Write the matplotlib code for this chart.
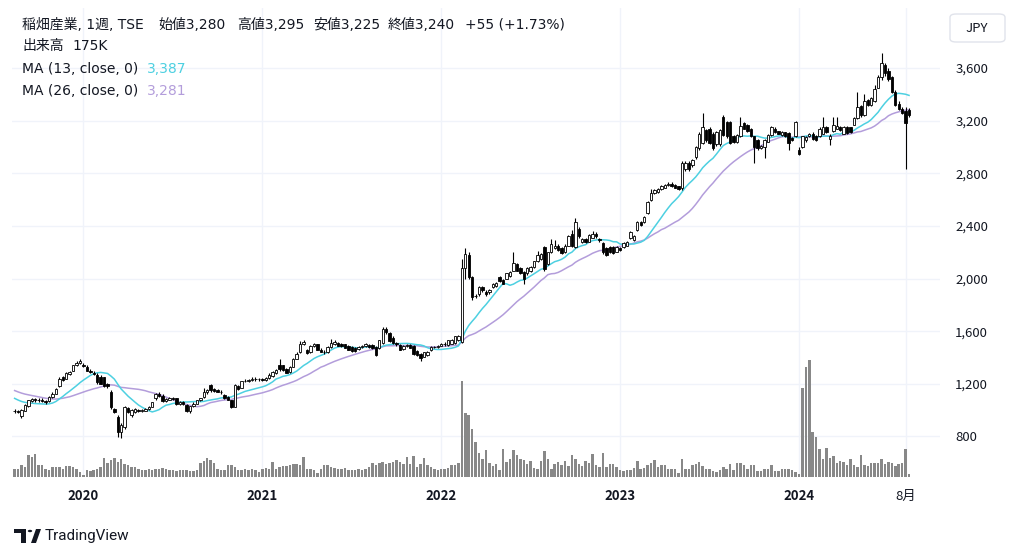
import numpy as np
import pandas as pd
import matplotlib
matplotlib.use('Agg')
import matplotlib.pyplot as plt
from matplotlib.patches import FancyBboxPatch, Rectangle, Circle, Polygon

plt.rcParams['font.family'] = ['Noto Sans CJK JP', 'DejaVu Sans']

# weekly closes before the first visible bar (only used to warm up the MAs)
closes_before = [1250, 1240, 1235, 1225, 1220, 1215, 1210, 1200, 1195, 1190, 1185, 1180, 1160,
                 1150, 1140, 1130, 1125, 1120, 1110, 1100, 1090, 1080, 1070, 1050, 1005]

opens = [
    995, 990, 955, 995, 1030, 1070, 1085, 1075, 1080, 1072,
    1068, 1100, 1125, 1180, 1250, 1240, 1275, 1300, 1340, 1360,
    1345, 1330, 1300, 1285, 1270, 1255, 1250, 1195, 1140, 1005,
    950, 830, 870, 1015, 960, 985, 1000, 995, 995, 1005,
    1025, 1090, 1120, 1110, 1070, 1080, 1090, 1090, 1050, 1060,
    1040, 990, 1030, 1050, 1080, 1100, 1140, 1190, 1160, 1150,
    1140, 1115, 1100, 1075, 1025, 1180, 1170, 1220, 1225, 1230,
    1240, 1235, 1238, 1230, 1245, 1260, 1280, 1345, 1340, 1315,
    1290, 1330, 1390, 1440, 1500, 1455, 1440, 1490, 1500, 1460,
    1445, 1440, 1480, 1500, 1510, 1505, 1500, 1490, 1480, 1470,
    1465, 1480, 1485, 1495, 1495, 1480, 1470, 1510, 1620, 1585,
    1550, 1510, 1495, 1465, 1490, 1495, 1490, 1450, 1430, 1405,
    1420, 1455, 1480, 1478, 1490, 1505, 1495, 1505, 1510, 1530,
    1520, 2080, 2180, 2010, 1870, 1880, 1935, 1900, 1895, 1935,
    1940, 2010, 1990, 2000, 2020, 2060, 2110, 2080, 2050, 2040,
    2055, 2090, 2130, 2150, 2240, 2110, 2200, 2230, 2250, 2230,
    2200, 2250, 2340, 2240, 2380, 2280, 2300, 2280, 2310, 2340,
    2300, 2270, 2230, 2240, 2240, 2205, 2230, 2240, 2250, 2305,
    2290, 2370, 2430, 2430, 2500, 2600, 2650, 2660, 2680, 2690,
    2710, 2720, 2710, 2700, 2690, 2830, 2880, 2860, 2920, 2990,
    3030, 3130, 3140, 3100, 3020, 3020, 3230, 3190, 3190, 3080,
    3040, 3080, 3180, 3170, 3140, 3080, 3050, 2995, 3000, 3040,
    3090, 3140, 3120, 3090, 3110, 3105, 3070, 3080, 2975, 3000,
    3050, 3080, 3100, 3080, 3080, 3100, 3150, 3060, 3120, 3140,
    3150, 3100, 3150, 3150, 3170, 3220, 3310, 3240, 3360, 3320,
    3350, 3450, 3530, 3620, 3580, 3530, 3420, 3330, 3290, 3270,
    3280]

highs = [
    1005, 1000, 1005, 1045, 1080, 1095, 1095, 1090, 1090, 1080,
    1105, 1135, 1165, 1250, 1260, 1290, 1300, 1345, 1370, 1385,
    1355, 1340, 1310, 1300, 1280, 1265, 1255, 1205, 1150, 1015,
    960, 900, 1030, 1025, 1005, 1015, 1010, 1010, 1015, 1030,
    1065, 1130, 1135, 1120, 1090, 1100, 1100, 1095, 1070, 1070,
    1045, 1035, 1060, 1080, 1095, 1165, 1160, 1195, 1170, 1160,
    1150, 1120, 1105, 1080, 1195, 1190, 1225, 1235, 1240, 1250,
    1250, 1245, 1245, 1255, 1280, 1295, 1310, 1385, 1345, 1320,
    1335, 1395, 1440, 1525, 1530, 1465, 1495, 1510, 1505, 1470,
    1455, 1485, 1540, 1530, 1515, 1510, 1505, 1495, 1485, 1480,
    1485, 1495, 1510, 1500, 1500, 1485, 1535, 1635, 1630, 1595,
    1560, 1520, 1500, 1495, 1500, 1500, 1495, 1455, 1435, 1445,
    1450, 1485, 1490, 1495, 1510, 1515, 1535, 1540, 1565, 1570,
    2150, 2235, 2200, 2020, 1885, 1945, 1945, 1910, 1920, 1965,
    1970, 2020, 2000, 2045, 2055, 2200, 2120, 2090, 2055, 2085,
    2095, 2135, 2210, 2195, 2250, 2205, 2300, 2295, 2260, 2240,
    2260, 2330, 2370, 2460, 2390, 2310, 2310, 2335, 2360, 2350,
    2310, 2280, 2240, 2250, 2245, 2245, 2240, 2275, 2285, 2360,
    2330, 2440, 2440, 2475, 2590, 2680, 2680, 2690, 2710, 2720,
    2730, 2730, 2715, 2705, 2890, 2895, 2890, 2910, 3010, 3110,
    3255, 3140, 3150, 3110, 3120, 3140, 3245, 3200, 3200, 3090,
    3100, 3230, 3190, 3175, 3145, 3085, 3060, 3015, 3060, 3095,
    3160, 3150, 3125, 3120, 3115, 3110, 3075, 3200, 3000, 3085,
    3080, 3105, 3110, 3090, 3150, 3230, 3160, 3100, 3230, 3230,
    3160, 3160, 3160, 3155, 3230, 3420, 3320, 3400, 3365, 3380,
    3470, 3550, 3712, 3640, 3600, 3540, 3430, 3350, 3300, 3300,
    3295]

lows = [
    980, 975, 940, 990, 1025, 1060, 1065, 1065, 1060, 1050,
    1060, 1095, 1120, 1175, 1220, 1235, 1265, 1295, 1335, 1350,
    1325, 1295, 1285, 1270, 1200, 1195, 1175, 1165, 1010, 975,
    795, 790, 860, 975, 950, 980, 985, 985, 990, 1000,
    1020, 1080, 1100, 1060, 1060, 1075, 1075, 1040, 1040, 1040,
    985, 980, 1020, 1045, 1070, 1095, 1125, 1140, 1140, 1135,
    1125, 1085, 1075, 1015, 1020, 1150, 1165, 1210, 1215, 1225,
    1225, 1225, 1220, 1225, 1240, 1255, 1275, 1300, 1300, 1280,
    1285, 1325, 1385, 1435, 1495, 1430, 1435, 1480, 1455, 1440,
    1430, 1435, 1475, 1495, 1485, 1480, 1470, 1455, 1445, 1440,
    1455, 1470, 1480, 1475, 1465, 1415, 1465, 1505, 1580, 1515,
    1505, 1490, 1455, 1460, 1480, 1470, 1420, 1415, 1370, 1400,
    1415, 1450, 1470, 1470, 1485, 1490, 1490, 1500, 1505, 1525,
    1510, 2000, 2000, 1840, 1855, 1870, 1900, 1870, 1885, 1925,
    1935, 1975, 1955, 1995, 2010, 2055, 2055, 2035, 1960, 2030,
    2050, 2080, 2125, 2140, 2060, 2100, 2195, 2225, 2210, 2185,
    2195, 2245, 2240, 2235, 2310, 2270, 2270, 2275, 2305, 2310,
    2280, 2190, 2170, 2195, 2190, 2200, 2210, 2235, 2245, 2300,
    2285, 2360, 2400, 2420, 2490, 2590, 2640, 2650, 2670, 2685,
    2700, 2695, 2685, 2670, 2670, 2820, 2820, 2850, 2910, 2980,
    3020, 3040, 3020, 2980, 3010, 3010, 3080, 3070, 3020, 3030,
    3030, 3075, 3135, 3110, 3075, 2880, 2980, 2985, 2915, 3035,
    3085, 3105, 3095, 3085, 3075, 2980, 3045, 3075, 2940, 2995,
    3040, 3075, 3055, 3045, 3075, 3095, 3105, 3015, 3115, 3135,
    3120, 3095, 3100, 3105, 3165, 3215, 3230, 3235, 3310, 3315,
    3345, 3445, 3510, 3540, 3500, 3410, 3310, 3280, 3250, 2830,
    3225]

closes = [
    990, 985, 1000, 1040, 1075, 1085, 1078, 1080, 1070, 1062,
    1100, 1125, 1160, 1240, 1230, 1280, 1290, 1340, 1360, 1372,
    1335, 1300, 1292, 1275, 1210, 1200, 1185, 1185, 1020, 985,
    830, 885, 1020, 985, 1000, 1005, 995, 1000, 1010, 1025,
    1060, 1120, 1110, 1070, 1085, 1090, 1085, 1045, 1060, 1050,
    990, 1030, 1050, 1075, 1090, 1140, 1150, 1150, 1145, 1140,
    1135, 1090, 1080, 1025, 1190, 1160, 1220, 1225, 1230, 1240,
    1235, 1238, 1230, 1245, 1265, 1290, 1305, 1310, 1305, 1285,
    1330, 1390, 1430, 1505, 1515, 1435, 1490, 1505, 1460, 1445,
    1440, 1480, 1510, 1520, 1490, 1485, 1475, 1460, 1450, 1450,
    1480, 1490, 1500, 1480, 1470, 1420, 1530, 1620, 1590, 1525,
    1510, 1500, 1460, 1490, 1495, 1475, 1425, 1420, 1395, 1440,
    1445, 1480, 1478, 1485, 1505, 1500, 1530, 1535, 1560, 1560,
    2080, 2190, 2010, 1860, 1870, 1935, 1910, 1880, 1915, 1960,
    1965, 1980, 1960, 2040, 2050, 2120, 2060, 2040, 1995, 2080,
    2090, 2130, 2180, 2190, 2070, 2200, 2260, 2250, 2220, 2195,
    2250, 2320, 2250, 2430, 2320, 2300, 2280, 2330, 2340, 2320,
    2290, 2200, 2180, 2200, 2195, 2240, 2220, 2270, 2280, 2355,
    2320, 2430, 2410, 2470, 2580, 2650, 2670, 2680, 2700, 2710,
    2720, 2700, 2690, 2680, 2880, 2880, 2830, 2900, 3000, 3100,
    3150, 3050, 3030, 2990, 3110, 3130, 3090, 3080, 3030, 3040,
    3090, 3160, 3140, 3120, 3080, 3000, 2990, 3005, 3050, 3090,
    3150, 3110, 3100, 3115, 3080, 3030, 3050, 3190, 2950, 3080,
    3075, 3100, 3060, 3050, 3140, 3150, 3110, 3080, 3170, 3160,
    3130, 3150, 3105, 3110, 3220, 3300, 3240, 3350, 3320, 3370,
    3440, 3530, 3640, 3560, 3520, 3420, 3320, 3290, 3260, 3185,
    3240]

# weekly volume, thousands of shares
volumes = [
    420, 420, 640, 530, 1170, 1060, 1220, 640, 640, 420,
    370, 530, 530, 530, 420, 580, 580, 530, 420, 270,
    110, 370, 320, 370, 420, 530, 1010, 740, 900, 1010,
    800, 950, 690, 640, 530, 530, 420, 370, 370, 420,
    370, 420, 420, 480, 420, 370, 370, 320, 370, 370,
    370, 320, 320, 370, 740, 850, 1010, 900, 740, 420,
    370, 370, 640, 640, 530, 370, 370, 420, 370, 420,
    370, 270, 420, 480, 420, 800, 420, 530, 580, 580,
    640, 690, 690, 640, 1060, 420, 420, 370, 210, 420,
    640, 640, 530, 480, 420, 420, 480, 370, 370, 370,
    420, 370, 420, 530, 740, 640, 740, 800, 690, 740,
    800, 900, 800, 690, 1060, 690, 1110, 530, 690, 1010,
    640, 530, 420, 370, 420, 420, 480, 640, 640, 740,
    5090, 3390, 3290, 2540, 1860, 1270, 950, 1430, 740, 580,
    690, 370, 1480, 800, 950, 1430, 1170, 950, 900, 690,
    850, 480, 420, 850, 1380, 950, 420, 690, 800, 640,
    850, 580, 1170, 950, 690, 580, 850, 740, 1220, 640,
    530, 1270, 530, 690, 690, 530, 370, 320, 370, 370,
    480, 850, 420, 480, 640, 740, 900, 530, 640, 640,
    420, 420, 420, 210, 950, 420, 420, 640, 690, 800,
    580, 420, 420, 320, 270, 370, 530, 420, 690, 370,
    740, 740, 640, 420, 640, 640, 320, 320, 420, 420,
    640, 320, 320, 420, 420, 420, 370, 270, 160, 4720,
    5830, 6200, 2390, 2120, 1480, 950, 1540, 1010, 1110, 740,
    850, 800, 640, 950, 640, 530, 1170, 640, 580, 740,
    740, 740, 950, 690, 800, 740, 580, 690, 740, 1480,
    175]

price_ticks = [800, 1200, 1600, 2000, 2400, 2800, 3200, 3600]

n = len(closes)
dates = pd.date_range(end='2024-08-12', periods=n, freq='W-MON')
x = np.arange(n)
o = np.array(opens)
h = np.array(highs)
l = np.array(lows)
c = np.array(closes)

hist = pd.Series(closes_before + closes)
ma13 = hist.rolling(13, min_periods=1).mean().values[len(closes_before):]
ma26 = hist.rolling(26, min_periods=1).mean().values[len(closes_before):]

# tick positions: first bar of each year, plus August 2024
tick_pos, tick_lab, tick_bold = [], [], []
for i in range(1, n):
    if dates[i].year != dates[i - 1].year:
        tick_pos.append(i)
        tick_lab.append(str(dates[i].year))
        tick_bold.append(True)
    elif dates[i].year == 2024 and dates[i].month == 8 and dates[i - 1].month == 7:
        tick_pos.append(i)
        tick_lab.append('8月')
        tick_bold.append(False)

W, H = 1024, 557
fig = plt.figure(figsize=(W / 100, H / 100), dpi=100)
rect = [12 / W, 80 / H, 928 / W, 469 / H]
xlim = (-0.76, 269.0)
ylim = (491.6, 4056)

# grid (bottom layer)
axg = fig.add_axes(rect)
axg.set_xlim(xlim)
axg.set_ylim(ylim)
axg.axis('off')
for p in price_ticks:
    axg.axhline(p, color='#f0f3fa', lw=1, zorder=0)
for t in tick_pos:
    axg.axvline(t, color='#f0f3fa', lw=1, zorder=0)

# volume
axv = fig.add_axes(rect)
axv.patch.set_alpha(0)
axv.set_xlim(xlim)
axv.set_ylim(0, max(volumes) / (117 / 469))
axv.axis('off')
axv.bar(x, volumes, width=0.72, color='#888888', zorder=1)

# price
ax = fig.add_axes(rect)
ax.patch.set_alpha(0)
ax.set_xlim(xlim)
ax.set_ylim(ylim)
for s in ax.spines.values():
    s.set_visible(False)

ax.plot(x, ma26, color='#b39ddb', lw=1.1, zorder=2)
ax.plot(x, ma13, color='#4dd0e1', lw=1.1, zorder=2)

up = c >= o
ax.vlines(x, l, h, color='#000000', lw=0.8, zorder=3)
ax.bar(x[up], (c - o)[up], bottom=o[up], width=0.7, color='white',
       edgecolor='black', linewidth=0.6, zorder=4)
ax.bar(x[~up], (o - c)[~up], bottom=c[~up], width=0.7, color='black',
       edgecolor='black', linewidth=0.6, zorder=4)

ax.yaxis.tick_right()
ax.set_yticks(price_ticks)
ax.set_yticklabels([f'{p:,}' for p in price_ticks])
ax.tick_params(axis='y', length=0, pad=11, labelsize=9.5, labelcolor='#131722')
ax.set_xticks(tick_pos)
ax.set_xticklabels(tick_lab)
ax.tick_params(axis='x', length=0, pad=9, labelsize=9.5, labelcolor='#131722')
for lab, b in zip(ax.get_xticklabels(), tick_bold):
    if b:
        lab.set_fontweight('bold')

# legend / header text
fs = 10
hfam = ['DejaVu Sans', 'Noto Sans CJK JP']
tc = '#131722'
header = [(22, '稲畑産業, 1週, TSE'), (158, '始値3,280'), (237, '高値3,295'),
          (313, '安値3,225'), (388, '終値3,240'), (465, '+55 (+1.73%)')]
for px, s in header:
    fig.text(px / W, 1 - 25 / H, s, fontsize=fs, color=tc, va='center', family=hfam)
fig.text(22 / W, 1 - 46 / H, '出来高', fontsize=fs, color=tc, va='center', family=hfam)
fig.text(72 / W, 1 - 46 / H, '175K', fontsize=fs, color=tc, va='center', family=hfam)
fig.text(22 / W, 1 - 69 / H, 'MA (13, close, 0)', fontsize=fs, color=tc, va='center', family=hfam)
fig.text(147 / W, 1 - 69 / H, '3,387', fontsize=fs, color='#4dd0e1', va='center', family=hfam)
fig.text(22 / W, 1 - 91 / H, 'MA (26, close, 0)', fontsize=fs, color=tc, va='center', family=hfam)
fig.text(147 / W, 1 - 91 / H, '3,281', fontsize=fs, color='#b39ddb', va='center', family=hfam)

# JPY button
btn = FancyBboxPatch((950 / W, 1 - 42 / H), 55 / W, 28 / H,
                     boxstyle='round,pad=0,rounding_size=0.006',
                     transform=fig.transFigure, facecolor='white',
                     edgecolor='#e0e3eb', lw=1)
fig.patches.append(btn)
fig.text(977 / W, 1 - 28 / H, 'JPY', fontsize=9.5, color=tc, ha='center', va='center')

# TradingView logo
fig.patches.append(Rectangle((14 / W, 1 - 533 / H), 12 / W, 4 / H, transform=fig.transFigure,
                             facecolor=tc, edgecolor='none'))
fig.patches.append(Rectangle((21 / W, 1 - 543 / H), 5 / W, 12 / H, transform=fig.transFigure,
                             facecolor=tc, edgecolor='none'))
fig.patches.append(Circle((30 / W, 1 - 531 / H), 2.2 / W, transform=fig.transFigure,
                          facecolor=tc, edgecolor='none'))
fig.patches.append(Polygon([(31 / W, 1 - 543 / H), (36 / W, 1 - 529 / H), (41 / W, 1 - 529 / H),
                            (36 / W, 1 - 543 / H)], closed=True, transform=fig.transFigure,
                           facecolor=tc, edgecolor='none'))
fig.text(45 / W, 1 - 536 / H, 'TradingView', fontsize=11, color=tc,
         va='center', family=['Roboto', 'DejaVu Sans'])

fig.savefig('out.png', dpi=100)
